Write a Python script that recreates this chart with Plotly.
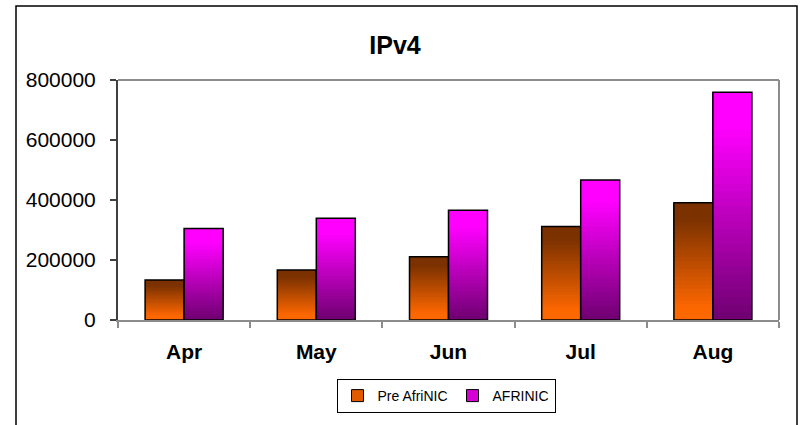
import plotly.graph_objects as go

months = ["Apr", "May", "Jun", "Jul", "Aug"]
pre_afrinic = [133000, 167000, 211000, 312000, 391000]
afrinic = [305000, 339000, 366000, 467000, 759000]
y_ticks = [0, 200000, 400000, 600000, 800000]

FONT = "Liberation Sans, Arial, sans-serif"
K = 30  # gradient steps


def lerp(c0, c1, t):
    return "rgb(%d,%d,%d)" % tuple(round(a + (b - a) * t) for a, b in zip(c0, c1))


def grad_color(stops, t):
    for (t0, c0), (t1, c1) in zip(stops, stops[1:]):
        if t <= t1:
            return lerp(c0, c1, (t - t0) / (t1 - t0) if t1 > t0 else 0)
    return lerp(stops[-1][1], stops[-1][1], 0)


series = [
    ("Pre AfriNIC", pre_afrinic, [(0.0, (255, 104, 0)), (0.12, (250, 102, 0)), (0.85, (125, 50, 0)), (1.0, (122, 48, 0))], "rgb(225,90,0)"),
    ("AFRINIC", afrinic, [(0.0, (110, 0, 112)), (0.85, (255, 0, 255)), (1.0, (255, 0, 255))], "rgb(215,0,215)"),
]

fig = go.Figure()
for name, vals, stops, legcol in series:
    for k in range(K):
        base = [v * k / K for v in vals]
        h = [v - b for v, b in zip(vals, base)]
        fig.add_trace(go.Bar(
            x=months, y=h, base=base, offsetgroup=name, showlegend=False,
            marker=dict(color=grad_color(stops, (k + 0.5) / K), line=dict(width=0)),
            hoverinfo="skip",
        ))
    fig.add_trace(go.Bar(
        x=months, y=vals, offsetgroup=name, showlegend=False, name=name,
        marker=dict(color="rgba(0,0,0,0)", line=dict(color="black", width=1.5)),
    ))
    fig.add_trace(go.Bar(
        x=months, y=[None] * len(months), offsetgroup=name, name=name, showlegend=True,
        marker=dict(color=legcol, line=dict(color="black", width=1)),
    ))

L, R, T, B = 118, 21, 80, 105
W, H = 800, 425
pw, ph = W - L - R, H - T - B


def px(x):
    return (x - L) / pw


def py(y):
    return (H - B - y) / ph


shapes = [
    # outer chart frame
    dict(type="rect", xref="paper", yref="paper", x0=px(16), x1=px(797), y0=py(440), y1=py(6),
         line=dict(color="black", width=1.5), fillcolor="rgba(0,0,0,0)", layer="below"),
    # plot-area frame (top/right)
    dict(type="line", xref="paper", yref="paper", x0=0, x1=1, y0=1, y1=1,
         line=dict(color="#8c8c8c", width=2)),
    dict(type="line", xref="paper", yref="paper", x0=1, x1=1, y0=0, y1=1,
         line=dict(color="#8c8c8c", width=2)),
]

fig.update_layout(
    width=W, height=H,
    margin=dict(l=L, r=R, t=T, b=B),
    paper_bgcolor="white", plot_bgcolor="white",
    barmode="group", bargap=0.41, bargroupgap=0,
    font=dict(family=FONT, color="black"),
    title=dict(text="<b>IPv4</b>", xref="container", x=395 / W, xanchor="center",
               yref="container", y=1 - 45 / H, yanchor="middle",
               font=dict(size=25, family=FONT, color="black")),
    xaxis=dict(
        showline=True, linecolor="#8c8c8c", linewidth=2, automargin=False,
        ticks="outside", tickson="boundaries", ticklen=6, tickcolor="#8c8c8c", tickwidth=1.5,
        tickfont=dict(size=21, family=FONT, color="black"),
        tickprefix="<b>", ticksuffix="</b>", ticklabelstandoff=12,
        showgrid=False, fixedrange=True,
    ),
    yaxis=dict(
        range=[0, 800000], tickvals=y_ticks, tickformat="d", automargin=False,
        showline=True, linecolor="#404040", linewidth=2,
        ticks="outside", ticklen=6, tickcolor="#404040", tickwidth=1.5,
        tickfont=dict(size=21, family=FONT, color="black"), ticklabelstandoff=10,
        showgrid=False, zeroline=False,
    ),
    legend=dict(
        orientation="h", x=px(446), xanchor="center", y=py(379), yanchor="top",
        bordercolor="black", borderwidth=1, bgcolor="white",
        font=dict(size=14, family=FONT, color="black"),
        itemwidth=30, tracegroupgap=0,
    ),
    shapes=shapes,
)

fig.write_html(
    "out.html",
    config={"displayModeBar": False},
    post_script="document.body.style.margin='0';document.body.style.overflow='hidden';",
)
